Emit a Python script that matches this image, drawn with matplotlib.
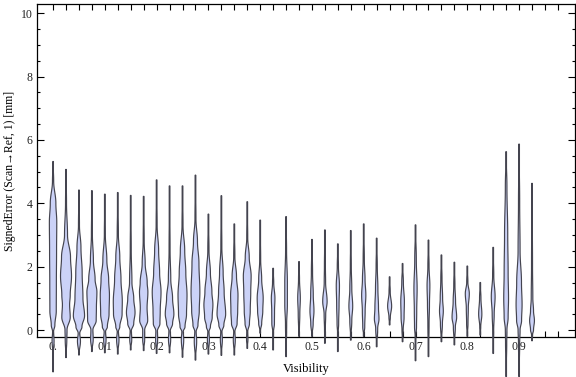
import numpy as np
import matplotlib
matplotlib.use("Agg")
import matplotlib.pyplot as plt
from matplotlib.ticker import MultipleLocator

# visibility bins (one violin each)
vis = [0.0, 0.025, 0.05, 0.075, 0.1, 0.125, 0.15, 0.175, 0.2, 0.225,
       0.25, 0.275, 0.3, 0.325, 0.35, 0.375, 0.4, 0.425, 0.45, 0.475,
       0.5, 0.525, 0.55, 0.575, 0.6, 0.625, 0.65, 0.675, 0.7, 0.725,
       0.75, 0.775, 0.8, 0.825, 0.85, 0.875, 0.9, 0.925]

# max / min signed error per bin [mm]
err_max = [5.32, 5.07, 4.42, 4.40, 4.29, 4.34, 4.25, 4.22, 4.74, 4.55,
           4.55, 4.89, 3.66, 4.24, 3.35, 4.05, 3.47, 1.95, 3.58, 2.16,
           2.86, 3.16, 2.72, 3.14, 3.35, 2.90, 1.68, 2.10, 3.32, 2.84,
           2.37, 2.14, 2.02, 1.50, 2.61, 5.63, 5.87, 4.63]
err_min = [-1.32, -0.87, -0.79, -0.68, -0.72, -0.76, -0.63, -0.65, -0.74, -0.72,
           -0.86, -0.95, -0.76, -0.80, -0.79, -0.58, -0.10, -0.63, -0.84, -0.20,
           -0.20, -0.42, -0.68, -0.32, -0.20, -0.53, 0.16, -0.37, -0.97, -0.84,
           -0.37, -0.47, -0.20, -0.16, -0.74, -1.47, -1.47, -0.34]

# smooth density: (error, relative density)
density = [
    [(4.7, 0.6), (4.0, 2.8), (3.4, 3.7), (2.5, 3.5), (1.5, 3.3), (0.6, 3.2), (0.15, 1.8), (-0.05, 0.5), (-0.35, 1.0), (-0.7, 0.3)],
    [(4.0, 0.5), (3.0, 1.5), (2.3, 4.5), (1.7, 5.5), (1.1, 4.2), (0.8, 3.6), (0.4, 4.2), (0.0, 1.0), (-0.3, 0.8)],
    [(3.3, 0.5), (2.6, 2.0), (1.8, 3.2), (1.0, 4.0), (0.45, 5.6), (0.1, 3.0), (-0.1, 0.8), (-0.35, 1.5)],
    [(3.0, 0.5), (2.2, 1.5), (1.6, 3.2), (1.2, 5.0), (0.7, 4.5), (0.3, 4.3), (0.0, 1.0), (-0.3, 1.3)],
    [(3.0, 0.5), (2.2, 2.0), (1.6, 3.8), (1.1, 4.6), (0.5, 4.2), (0.1, 2.5), (-0.05, 0.7), (-0.3, 1.2)],
    [(3.0, 0.6), (2.3, 2.0), (1.6, 3.2), (0.9, 4.5), (0.5, 4.3), (0.1, 2.0), (-0.05, 0.6), (-0.3, 1.2)],
    [(2.5, 0.5), (1.5, 1.2), (1.0, 3.0), (0.55, 4.3), (0.2, 3.0), (-0.03, 0.6), (-0.3, 1.0)],
    [(2.8, 0.5), (2.1, 1.5), (1.5, 3.5), (1.2, 4.2), (0.7, 3.4), (0.3, 4.0), (0.0, 1.0), (-0.3, 1.0)],
    [(3.3, 0.5), (2.5, 2.0), (1.8, 3.0), (1.2, 4.4), (0.6, 3.6), (0.2, 3.3), (-0.03, 0.8), (-0.3, 1.0)],
    [(2.5, 0.5), (1.6, 1.2), (1.0, 3.0), (0.5, 4.3), (0.2, 3.0), (-0.03, 0.7), (-0.3, 1.1)],
    [(3.3, 0.5), (2.5, 2.2), (1.8, 3.3), (1.1, 4.5), (0.5, 4.0), (0.1, 2.5), (-0.05, 0.7), (-0.3, 1.2)],
    [(3.5, 0.5), (2.8, 2.0), (2.1, 3.5), (1.2, 4.4), (0.6, 3.8), (0.15, 2.5), (-0.05, 0.7), (-0.35, 1.2)],
    [(2.5, 0.6), (1.8, 2.0), (1.2, 3.5), (0.8, 4.5), (0.4, 3.8), (0.1, 2.0), (-0.05, 0.6), (-0.3, 1.0)],
    [(2.6, 0.5), (1.8, 1.8), (1.2, 2.8), (0.5, 4.3), (0.15, 2.5), (-0.05, 0.6), (-0.3, 1.0)],
    [(2.3, 0.6), (1.7, 2.2), (1.1, 3.7), (0.6, 3.4), (0.2, 2.8), (-0.05, 0.6), (-0.3, 1.0)],
    [(2.9, 0.5), (2.3, 2.0), (1.7, 3.9), (1.2, 3.5), (0.6, 3.0), (0.2, 2.2), (-0.05, 0.5), (-0.3, 0.7)],
    [(2.2, 0.5), (1.6, 1.5), (1.0, 3.0), (0.6, 2.6), (0.2, 1.5), (0.0, 0.4)],
    [(1.5, 0.6), (1.0, 1.8), (0.6, 1.4), (0.2, 1.3), (-0.05, 0.4)],
    [(2.5, 0.5), (1.5, 1.3), (0.8, 1.3), (0.2, 0.6)],
    [(1.6, 0.5), (1.0, 1.3), (0.5, 0.8), (0.0, 0.4)],
    [(1.8, 0.6), (1.1, 1.3), (0.6, 2.0), (0.2, 1.2)],
    [(2.0, 0.5), (1.5, 0.7), (0.9, 2.2), (0.5, 0.8), (0.0, 0.4)],
    [(2.0, 0.6), (1.4, 1.6), (0.8, 1.2), (0.2, 0.8), (-0.1, 0.3)],
    [(2.0, 0.5), (1.3, 1.0), (0.75, 1.9), (0.3, 1.0)],
    [(2.2, 0.6), (1.6, 1.3), (1.1, 2.1), (0.6, 1.4), (0.1, 1.0)],
    [(2.0, 0.6), (1.3, 1.2), (0.7, 1.8), (0.35, 2.3), (0.05, 1.0)],
    [(1.2, 0.6), (0.75, 2.0), (0.4, 0.7)],
    [(1.5, 0.8), (0.9, 1.8), (0.4, 1.5), (0.0, 0.6)],
    [(2.2, 0.8), (1.3, 1.6), (0.6, 1.2), (0.1, 1.0), (-0.2, 0.4)],
    [(2.0, 0.6), (1.4, 1.4), (0.8, 1.0), (0.2, 0.6)],
    [(1.6, 0.6), (1.0, 1.2), (0.6, 1.9), (0.2, 1.0)],
    [(1.4, 0.6), (0.9, 1.2), (0.4, 2.3), (0.1, 1.0)],
    [(1.5, 0.6), (1.15, 2.0), (0.7, 1.0), (0.2, 0.7)],
    [(1.0, 0.7), (0.5, 1.6), (0.1, 0.5)],
    [(1.7, 0.6), (1.05, 1.9), (0.5, 1.0), (0.0, 0.5)],
    [(4.5, 0.8), (3.0, 1.6), (1.8, 2.0), (1.0, 2.4), (0.4, 2.0), (0.0, 0.8), (-0.4, 0.6)],
    [(4.0, 0.6), (2.5, 1.0), (1.5, 2.4), (0.8, 3.0), (0.3, 2.5), (0.0, 1.0), (-0.4, 0.6)],
    [(2.0, 0.5), (1.0, 0.8), (0.6, 1.5), (0.3, 2.4), (0.0, 1.5), (-0.15, 0.5)],
]

xtick_labels = ["0.", "0.1", "0.2", "0.3", "0.4", "0.5", "0.6", "0.7", "0.8", "0.9"]

serif = ["Liberation Serif", "DejaVu Serif"]
plt.rcParams["font.family"] = serif

W = 576 / 100
H = 377 / 100
fig = plt.figure(figsize=(W, H), dpi=100)
ax = fig.add_axes([36.5 / 576, 1 - 337.3 / 377, (575 - 36.5) / 576, (337.3 - 4.4) / 377])

half_w = 0.025 / 12.95   # one density unit = one pixel half width


def smooth_profile(lo, hi, knots):
    pts = sorted([(lo, 0.0)] + list(knots) + [(hi, 0.0)])
    ys = np.array([p[0] for p in pts])
    ws = np.array([p[1] for p in pts])
    yy = np.linspace(lo, hi, 400)
    idx = np.clip(np.searchsorted(ys, yy) - 1, 0, len(ys) - 2)
    t = (yy - ys[idx]) / (ys[idx + 1] - ys[idx])
    s = (1 - np.cos(np.pi * t)) / 2
    ww = ws[idx] + (ws[idx + 1] - ws[idx]) * s
    return yy, ww


for x0, lo, hi, knots in zip(vis, err_min, err_max, density):
    yy, ww = smooth_profile(lo, hi, knots)
    ww = np.maximum(ww, 0.35) * half_w
    xs = np.concatenate([x0 - ww, (x0 + ww)[::-1]])
    ys = np.concatenate([yy, yy[::-1]])
    ax.fill(xs, ys, facecolor="#cbd2f7", edgecolor="#44444f", lw=0.85,
            clip_on=False, zorder=3)

ax.set_xlim(-0.032, 1.008)
ax.set_ylim(-0.23, 10.28)

ax.set_xticks([0.025 * i for i in range(40)], minor=True)
ax.set_xticks([0.1 * i for i in range(10)])
ax.set_xticklabels(xtick_labels)
ax.yaxis.set_major_locator(MultipleLocator(2))
ax.yaxis.set_minor_locator(MultipleLocator(0.5))

ax.tick_params(axis="both", which="both", direction="in", top=True, right=True,
               color="black", width=0.8, labelsize=8.5, labelcolor="#222222")
ax.tick_params(axis="x", which="both", length=4, pad=3)
ax.tick_params(axis="y", which="major", length=5, pad=3)
ax.tick_params(axis="y", which="minor", length=2.5)
for sp in ax.spines.values():
    sp.set_linewidth(0.9)

ax.set_xlabel("Visibility", fontsize=9, labelpad=7)
ax.set_ylabel("SignedError (Scan\u2192Ref, 1) [mm]", fontsize=8.5, labelpad=3)

fig.savefig("out.png", dpi=100)
